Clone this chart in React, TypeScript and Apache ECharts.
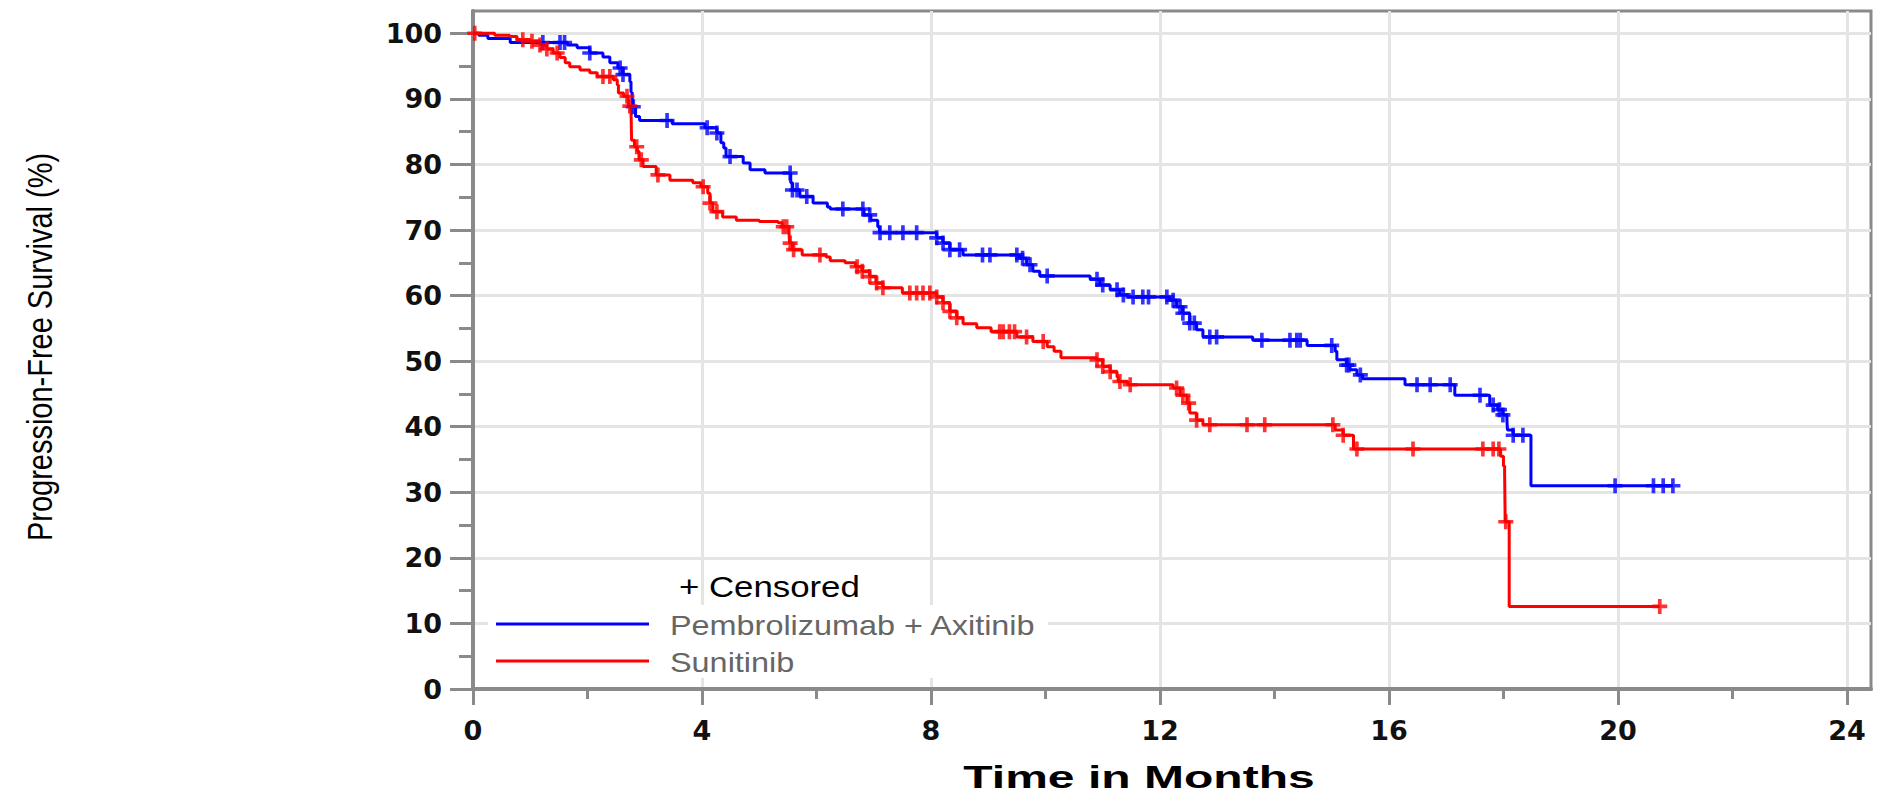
import React, { useEffect, useRef } from 'react';
import * as echarts from 'echarts';

const seriesNames = ['Pembrolizumab + Axitinib', 'Sunitinib'];
const seriesColors = ['#0000ff', '#ff0000'];

// Kaplan-Meier steps: [time in months, survival % after the step]
const blueSteps: [number, number][] = [
  [0, 100], [0.1, 99.7], [0.26, 99.2], [0.65, 98.6], [1.65, 98.2], [1.82, 97.8], [2.04, 97.0],
  [2.27, 96.4], [2.39, 95.5], [2.53, 94.7], [2.62, 93.7], [2.74, 92.6], [2.76, 91.0], [2.78, 90.3],
  [2.79, 88.8], [2.84, 87.3], [2.91, 86.7], [3.48, 86.2], [4.05, 85.6], [4.26, 84.8], [4.33, 83.3],
  [4.38, 82.5], [4.42, 81.2], [4.72, 80.2], [4.84, 79.2], [5.1, 78.7], [5.55, 77.2], [5.58, 76.1],
  [5.71, 75.1], [5.94, 74.1], [6.19, 73.5], [6.24, 73.2], [6.83, 72.3], [6.95, 71.5], [7.07, 70.5],
  [7.1, 69.6], [8.1, 68.8], [8.21, 68.0], [8.33, 67.0], [8.56, 66.2], [9.55, 65.7], [9.67, 64.7],
  [9.78, 63.7], [9.9, 63.0], [10.78, 62.5], [10.95, 61.6], [11.13, 60.9], [11.3, 60.1], [11.44, 59.8],
  [12.17, 59.3], [12.29, 58.3], [12.4, 57.3], [12.52, 55.8], [12.64, 54.8], [12.75, 53.7], [13.62, 53.2],
  [14.57, 52.4], [15.06, 51.5], [15.09, 50.2], [15.26, 49.4], [15.32, 48.7], [15.44, 47.9], [15.54, 47.3],
  [16.28, 46.4], [17.15, 44.8], [17.76, 43.3], [17.9, 42.6], [17.99, 41.8], [18.06, 41.0], [18.07, 39.5],
  [18.17, 38.7], [18.48, 31.0], [20.96, 31.0],
];

const redSteps: [number, number][] = [
  [0, 100], [0.38, 99.7], [0.64, 99.5], [0.77, 99.0], [1.0, 98.8], [1.17, 98.2], [1.29, 97.6],
  [1.4, 97.0], [1.52, 96.3], [1.61, 95.5], [1.69, 94.9], [1.87, 94.4], [2.04, 94.0], [2.17, 93.4],
  [2.45, 92.9], [2.52, 92.1], [2.54, 90.9], [2.63, 90.4], [2.71, 89.9], [2.72, 88.9], [2.76, 88.3],
  [2.77, 83.7], [2.82, 82.7], [2.87, 82.0], [2.9, 80.7], [2.97, 79.7], [3.2, 78.4], [3.44, 77.6],
  [3.84, 77.2], [3.98, 76.6], [4.1, 75.6], [4.14, 74.1], [4.19, 72.8], [4.36, 72.0], [4.6, 71.5],
  [5.0, 71.3], [5.33, 71.1], [5.4, 70.5], [5.52, 69.6], [5.53, 68.0], [5.58, 67.0], [5.75, 66.2],
  [6.17, 65.9], [6.24, 65.3], [6.5, 65.0], [6.68, 64.4], [6.8, 63.7], [6.93, 62.9], [7.04, 61.9],
  [7.16, 61.2], [7.5, 60.4], [8.1, 59.8], [8.21, 58.9], [8.33, 57.6], [8.45, 56.6], [8.56, 55.7],
  [8.8, 55.1], [9.05, 54.5], [9.5, 53.7], [9.78, 53.0], [10.03, 52.2], [10.15, 51.5], [10.27, 50.5],
  [10.89, 50.2], [11.0, 49.2], [11.13, 48.4], [11.25, 47.6], [11.27, 46.9], [11.44, 46.4], [12.23, 45.9],
  [12.35, 44.8], [12.47, 43.6], [12.52, 42.1], [12.64, 41.0], [12.75, 40.3], [15.06, 39.5], [15.2, 38.7],
  [15.38, 36.6], [17.95, 35.5], [18.0, 34.0], [18.02, 33.0], [18.03, 25.5], [18.1, 12.6], [20.73, 12.6],
];

// Censoring times (months)
const blueCensorTimes = [
  1.22, 1.52, 1.6, 2.04, 2.57, 2.62, 2.8, 3.39, 4.09, 4.26, 4.49, 5.54, 5.58, 5.66, 5.83, 6.46, 6.81,
  6.93, 7.11, 7.28, 7.51, 7.75, 8.1, 8.21, 8.33, 8.5, 8.9, 9.03, 9.5, 9.6, 9.73, 10.03, 10.9, 11.0,
  11.25, 11.36, 11.53, 11.7, 11.8, 12.12, 12.23, 12.35, 12.4, 12.52, 12.6, 12.87, 12.99, 13.78, 14.27,
  14.39, 14.45, 15.0, 15.26, 15.3, 15.5, 16.49, 16.72, 17.07, 17.59, 17.82, 17.93, 17.99, 18.17, 18.34,
  19.95, 20.62, 20.79, 20.96,
];
const redCensorTimes = [
  0.03, 0.87, 1.03, 1.17, 1.29, 1.47, 2.27, 2.39, 2.69, 2.74, 2.86, 2.94, 3.23, 4.02, 4.14, 4.26, 5.42,
  5.48, 5.54, 5.6, 6.06, 6.71, 6.8, 6.93, 7.05, 7.16, 7.63, 7.75, 7.86, 7.98, 8.1, 8.21, 8.33, 8.45,
  9.2, 9.26, 9.37, 9.46, 9.67, 9.96, 10.9, 11.0, 11.13, 11.3, 11.48, 12.29, 12.4, 12.5, 12.64, 12.87,
  13.52, 13.83, 15.02, 15.2, 15.44, 16.42, 17.64, 17.82, 17.92, 18.04, 20.73,
];

const xTicks = [0, 4, 8, 12, 16, 20, 24];
const xMinorTicks = [2, 6, 10, 14, 18, 22];
const yTicks = [0, 10, 20, 30, 40, 50, 60, 70, 80, 90, 100];
const yMinorTicks = [5, 15, 25, 35, 45, 55, 65, 75, 85, 95];

const xTitle = 'Time in Months';
const yTitle = 'Progression-Free Survival (%)';
const censorLabel = '+ Censored';

function survivalAt(steps: [number, number][], t: number): number {
  let s = steps[0][1];
  for (const [time, val] of steps) {
    if (time <= t + 1e-9) s = val;
    else break;
  }
  return s;
}

const AXIS_COLOR = '#8a8a8a';
const GRID_COLOR = '#e4e4e4';
const PLUS = 'path://M5.3,0H8.7V5.3H14V8.7H8.7V14H5.3V8.7H0V5.3H5.3Z';

export default function App() {
  const ref = useRef<HTMLDivElement>(null);

  useEffect(() => {
    if (!ref.current) return;
    const chart = echarts.init(ref.current, undefined, { renderer: 'svg' });

    const xMax = 24.42;
    const yMax = 103.4;

    const tickLine = { color: AXIS_COLOR, width: 3 };
    const labelFont = { fontFamily: 'DejaVu Sans', fontSize: 27, fontWeight: 'bold' as const, color: '#111' };

    const option: any = {
      animation: false,
      grid: {
        left: 473, top: 11, right: 14, bottom: 108,
        show: true, borderColor: AXIS_COLOR, borderWidth: 3, backgroundColor: 'transparent',
      },
      xAxis: [
        {
          type: 'value', min: 0, max: xMax, interval: 4,
          axisLine: { show: true, onZero: false, lineStyle: { color: AXIS_COLOR, width: 4 } },
          axisTick: { show: true, customValues: xTicks, length: 16, lineStyle: tickLine },
          axisLabel: {
            customValues: xTicks, margin: 28, ...labelFont,
            formatter: (v: number) => (Math.abs(v % 4) < 1e-6 ? String(v) : ''),
          },
          splitLine: { show: true, lineStyle: { color: GRID_COLOR, width: 3 } },
        },
        {
          type: 'value', min: 0, max: xMax, position: 'bottom',
          axisLine: { show: false },
          axisTick: { show: true, customValues: xMinorTicks, length: 10, lineStyle: tickLine },
          axisLabel: { show: false },
          splitLine: { show: false },
        },
      ],
      yAxis: [
        {
          type: 'value', min: 0, max: yMax, interval: 10,
          axisLine: { show: true, onZero: false, lineStyle: { color: AXIS_COLOR, width: 4 } },
          axisTick: { show: true, customValues: yTicks, length: 23, lineStyle: tickLine },
          axisLabel: {
            customValues: yTicks, margin: 31, ...labelFont,
            formatter: (v: number) => (Math.abs(v % 10) < 1e-6 ? String(v) : ''),
          },
          splitLine: { show: true, lineStyle: { color: GRID_COLOR, width: 3 } },
        },
        {
          type: 'value', min: 0, max: yMax, position: 'left',
          axisLine: { show: false },
          axisTick: { show: true, customValues: yMinorTicks, length: 14, lineStyle: tickLine },
          axisLabel: { show: false },
          splitLine: { show: false },
        },
      ],
      series: [
        {
          name: seriesNames[0], type: 'line', step: 'end', data: blueSteps, showSymbol: false, symbol: 'none',
          lineStyle: { color: seriesColors[0], width: 3 }, z: 3,
        },
        {
          name: seriesNames[1], type: 'line', step: 'end', data: redSteps, showSymbol: false, symbol: 'none',
          lineStyle: { color: seriesColors[1], width: 3 }, z: 3,
        },
        {
          name: seriesNames[0] + ' censored', type: 'scatter', symbol: PLUS, symbolSize: 15,
          data: blueCensorTimes.map((t) => [t, survivalAt(blueSteps, t)]),
          itemStyle: { color: seriesColors[0] }, z: 4,
        },
        {
          name: seriesNames[1] + ' censored', type: 'scatter', symbol: PLUS, symbolSize: 15,
          data: redCensorTimes.map((t) => [t, survivalAt(redSteps, t)]),
          itemStyle: { color: seriesColors[1] }, z: 4,
        },
      ],
      graphic: [
        {
          type: 'text', x: 40, y: 347, rotation: Math.PI / 2, scaleY: 1.2, z: 10,
          style: {
            text: yTitle, font: '29px "Liberation Sans"', fill: '#000',
            align: 'center', verticalAlign: 'middle', textAlign: 'center', textVerticalAlign: 'middle',
          },
        },
        {
          type: 'text', x: 1139, y: 777, scaleX: 1.55, z: 10,
          style: {
            text: xTitle, font: 'bold 31px "Liberation Sans"', fill: '#000',
            align: 'center', verticalAlign: 'middle', textAlign: 'center', textVerticalAlign: 'middle',
          },
        },
        {
          type: 'text', x: 679, y: 587, scaleX: 1.2, z: 10,
          style: {
            text: censorLabel, font: '29px "Liberation Sans"', fill: '#000',
            align: 'left', verticalAlign: 'middle', textAlign: 'left', textVerticalAlign: 'middle',
          },
        },
        {
          type: 'rect', z: 10,
          shape: { x: 488, y: 605, width: 560, height: 73 },
          style: { fill: '#ffffff' },
        },
        {
          type: 'line', z: 11, shape: { x1: 496, y1: 624, x2: 649, y2: 624 },
          style: { stroke: seriesColors[0], lineWidth: 3 },
        },
        {
          type: 'text', x: 670, y: 625, scaleX: 1.2, z: 11,
          style: {
            text: seriesNames[0], font: '27px "Liberation Sans"', fill: '#666',
            align: 'left', verticalAlign: 'middle', textAlign: 'left', textVerticalAlign: 'middle',
          },
        },
        {
          type: 'line', z: 11, shape: { x1: 496, y1: 661, x2: 649, y2: 661 },
          style: { stroke: seriesColors[1], lineWidth: 3 },
        },
        {
          type: 'text', x: 670, y: 662, scaleX: 1.2, z: 11,
          style: {
            text: seriesNames[1], font: '27px "Liberation Sans"', fill: '#666',
            align: 'left', verticalAlign: 'middle', textAlign: 'left', textVerticalAlign: 'middle',
          },
        },
      ],
    };

    chart.setOption(option);
    return () => chart.dispose();
  }, []);

  return (
    <div
      ref={ref}
      style={{ position: 'fixed', left: 0, top: 0, width: 1885, height: 797, background: '#fff' }}
    />
  );
}
